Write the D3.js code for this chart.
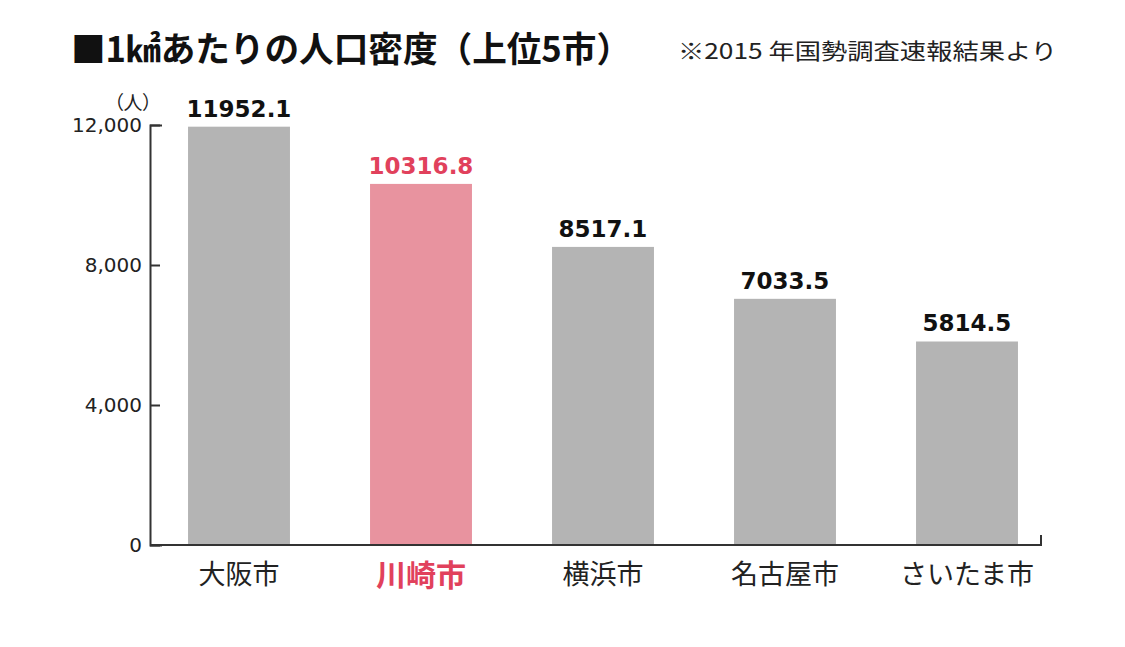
<!DOCTYPE html>
<html>
<head>
<meta charset="utf-8">
<script src="https://cdn.jsdelivr.net/npm/d3@7"></script>
<style>
body{margin:0;background:#fff;}
text{font-family:"Noto Sans CJK JP",sans-serif;}
.num{font-family:"DejaVu Sans",sans-serif;}
</style>
</head>
<body>
<div id="chart"></div>
<script>
var w=1125,h=647;

var cities=["大阪市","川崎市","横浜市","名古屋市","さいたま市"];
var density=[11952.1,10316.8,8517.1,7033.5,5814.5];
var labels=["11952.1","10316.8","8517.1","7033.5","5814.5"];
var yTicks=[0,4000,8000,12000];
var hilite="川崎市";

var svg=d3.select("#chart")
.append("svg")
.attr("width",w)
.attr("height",h);

var x=d3.scaleBand()
.domain(cities)
.range([148,1058])
.paddingInner(0.44)
.paddingOuter(0.22);

var y=d3.scaleLinear()
.domain([0,12000])
.range([545,125]);

// title + note
svg.append("text")
.text("■1㎢あたりの人口密度（上位5市）")
.attr("x",71)
.attr("y",62)
.attr("textLength",560)
.attr("lengthAdjust","spacingAndGlyphs")
.style("font-size","35px")
.style("font-weight","bold")
.style("fill","#111");

svg.append("text")
.text("※2015 年国勢調査速報結果より")
.attr("x",678)
.attr("y",59)
.attr("textLength",379)
.attr("lengthAdjust","spacingAndGlyphs")
.style("font-size","22px")
.style("fill","#222");

svg.append("text")
.text("（人）")
.attr("x",161)
.attr("y",110)
.attr("text-anchor","end")
.attr("textLength",56)
.attr("lengthAdjust","spacing")
.style("font-size","19px")
.style("fill","#222");

// bars
svg.selectAll("rect.bar")
.data(cities)
.enter()
.append("rect")
.attr("class","bar")
.attr("x",function(d){return x(d)})
.attr("width",x.bandwidth())
.attr("y",function(d,i){return y(density[i])})
.attr("height",function(d,i){return y(0)-y(density[i])})
.style("fill",function(d){return d==hilite?"#e8939f":"#b4b4b4"});

// value labels
svg.selectAll("text.val")
.data(cities)
.enter()
.append("text")
.attr("class","val num")
.text(function(d,i){return labels[i]})
.attr("x",function(d){return x(d)+x.bandwidth()/2})
.attr("y",function(d,i){return y(density[i])-10})
.attr("text-anchor","middle")
.style("font-size","23px")
.style("font-weight","bold")
.style("fill",function(d){return d==hilite?"#e1415c":"#111"});

// y axis
var yAxis=svg.append("g")
.attr("transform","translate(150,0)")
.call(d3.axisLeft(y)
  .tickValues(yTicks)
  .tickFormat(d3.format(","))
  .tickSizeInner(-10)
  .tickSizeOuter(-12)
  .tickPadding(8));
yAxis.selectAll("path,line").style("stroke","#333").style("stroke-width",2);
yAxis.selectAll("text")
.attr("class","num")
.style("font-size","20px")
.style("fill","#222")
.style("font-family","DejaVu Sans, sans-serif");

// x axis
var xAxis=svg.append("g")
.attr("transform","translate(0,545)")
.call(d3.axisBottom(x).tickSize(0).tickPadding(20));
xAxis.select(".domain").remove();
xAxis.append("path")
.attr("d","M150,0H1041V-10")
.style("fill","none")
.style("stroke","#333")
.style("stroke-width",2);
xAxis.selectAll(".tick text")
.style("font-family","Noto Sans CJK JP, sans-serif")
.style("font-size",function(d){return d==hilite?"30px":"27px"})
.style("font-weight",function(d){return d==hilite?"bold":"normal"})
.style("fill",function(d){return d==hilite?"#e1415c":"#222"});
</script>
</body>
</html>
